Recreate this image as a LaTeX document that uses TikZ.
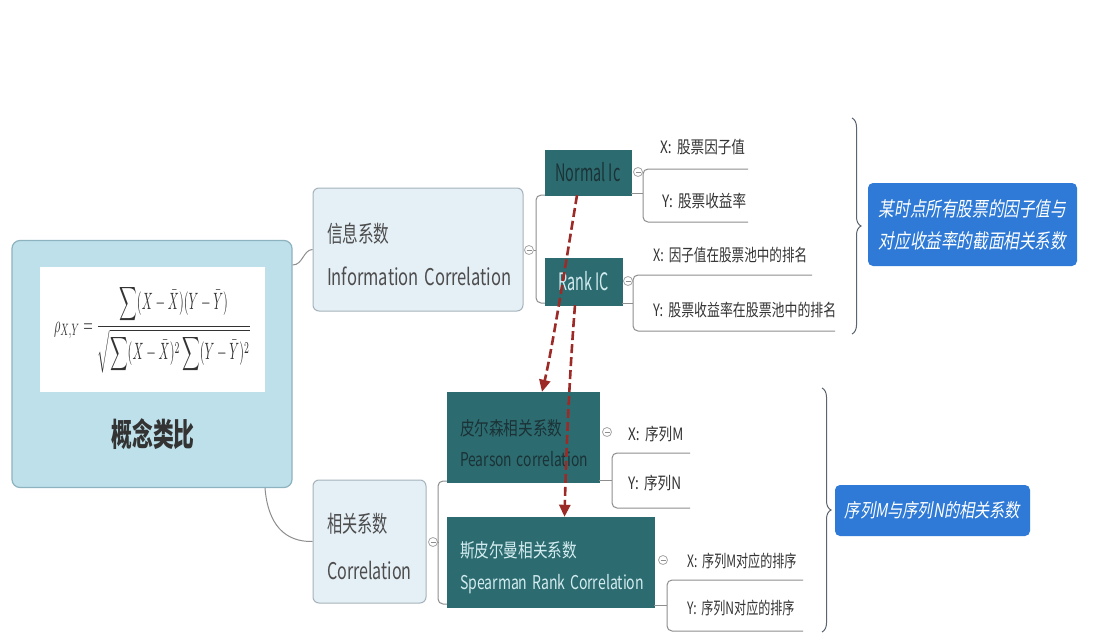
\documentclass[tikz,border=0pt]{standalone}
\usepackage{fontspec}
\usepackage{graphicx}
\setmainfont{Noto Sans CJK SC}
\newfontfamily\slantf[FakeSlant=0.22]{Noto Sans CJK SC}
\usetikzlibrary{decorations.pathreplacing,arrows.meta}
\newcommand\sx[2]{\scalebox{#1}[1]{#2}}
\definecolor{rootfill}{HTML}{BEE0EA}
\definecolor{rootdraw}{HTML}{8DB3C0}
\definecolor{topicfill}{HTML}{E4EFF6}
\definecolor{topicdraw}{HTML}{A6B3BA}
\definecolor{tealfill}{HTML}{2C6C70}
\definecolor{tealdark}{HTML}{1B3236}
\definecolor{teallight}{HTML}{D3ECF0}
\definecolor{bluefill}{HTML}{2E7AD6}
\definecolor{graytext}{HTML}{4D4D4D}
\definecolor{leaftext}{HTML}{333333}
\definecolor{linegray}{HTML}{8E8E8E}
\definecolor{redline}{HTML}{9C2B27}
\definecolor{bracegray}{HTML}{5A6570}
\tikzset{
  rootbox/.style={draw=rootdraw, fill=rootfill, rounded corners=8pt, line width=1.2pt},
  topic/.style={draw=topicdraw, fill=topicfill, rounded corners=6pt, line width=1pt, text=graytext, inner sep=0pt},
  tealbox/.style={fill=tealfill, draw=tealfill, inner sep=0pt},
  sumbox/.style={fill=bluefill, rounded corners=5pt, text=white, inner sep=0pt, align=center},
  leaf/.style={anchor=base west, text=leaftext, inner sep=0pt, font=\fontsize{17}{20}\selectfont},
  conn/.style={draw=linegray, line width=1pt, rounded corners=5pt},
  collapse/.style={circle, draw=linegray!80, fill=white, line width=0.8pt, minimum size=9pt, inner sep=0pt,
     path picture={\draw[linegray, line width=0.6pt] ([xshift=2pt]path picture bounding box.west) -- ([xshift=-2pt]path picture bounding box.east);}},
  redarrow/.style={draw=redline, line width=2.6pt, dash pattern=on 9pt off 4pt, -{Triangle[length=12pt,width=11pt]}},
  bracestyle/.style={draw=bracegray, line width=1pt, decorate, decoration={brace, amplitude=9pt}}
}
\begin{document}
\begin{tikzpicture}[x=1pt,y=-1pt]
\useasboundingbox (0,0) rectangle (1096,634);
\fill[white] (0,0) rectangle (1096,634);

% ---------- root ----------
\node[rootbox, minimum width=280pt, minimum height=247pt] (root) at (152,364) {};
\node[fill=white, minimum width=225pt, minimum height=125pt, inner sep=0pt, text=leaftext] (formula) at (152.5,329)
  {\resizebox*{197pt}{88pt}{$\displaystyle \rho_{X,Y}=\frac{\displaystyle\sum(X-\bar{X})(Y-\bar{Y})}{\displaystyle\sqrt{\sum(X-\bar{X})^2\sum(Y-\bar{Y})^2}}$}};
\node[font=\fontsize{32}{36}\selectfont\bfseries, text=leaftext, inner sep=0pt] (rootlbl) at (153,434) {\sx{0.65}{概念类比}};

% ---------- main topics ----------
\node[topic, minimum width=210pt, minimum height=123pt, text width=182pt, align=left,
      font=\fontsize{23}{43}\selectfont] (info) at (418,249.5)
  {\rule{0pt}{30pt}\sx{0.68}{信息系数}\\\sx{0.72}{Information Correlation}};
\node[topic, minimum width=113pt, minimum height=123pt, text width=85pt, align=left,
      font=\fontsize{23}{47}\selectfont] (corr) at (369.5,541.5)
  {\rule{0pt}{28.5pt}\sx{0.66}{相关系数}\\\sx{0.70}{Correlation}};

\draw[linegray, line width=1pt] (root.east |- 0,265) .. controls (303,265) and (303,250) .. (info.west);
\draw[linegray, line width=1pt] (265,488) .. controls (268,525) and (285,542) .. (corr.west);

% ---------- teal sub topics ----------
\node[tealbox, minimum width=86pt, minimum height=45pt, text=tealdark, font=\fontsize{24}{28}\selectfont] (nic) at (588,172.5) {\sx{0.6}{Normal Ic}};
\node[tealbox, minimum width=77pt, minimum height=47pt, text=teallight, font=\fontsize{24}{28}\selectfont] (rank) at (583.5,281.5) {\sx{0.6}{Rank IC}};
\node[tealbox, minimum width=152pt, minimum height=90pt, text width=126pt, align=left, text=tealdark,
      font=\fontsize{19}{31}\selectfont] (pear) at (523,437)
  {\rule{0pt}{28pt}\sx{0.77}{皮尔森相关系数}\\\sx{0.73}{Pearson correlation}};
\node[tealbox, minimum width=207pt, minimum height=90pt, text width=181pt, align=left, text=teallight,
      font=\fontsize{19}{32}\selectfont] (spear) at (550.5,562)
  {\rule{0pt}{27pt}\sx{0.77}{斯皮尔曼相关系数}\\\sx{0.74}{Spearman Rank Correlation}};

% collapse markers
\node[collapse] (cinfo) at (529,250) {};
\node[collapse] (ccorr) at (433,542) {};
\node[collapse] (cnic) at (638,172) {};
\node[collapse] (crank) at (628,281) {};
\node[collapse] (cpear) at (607,432) {};
\node[collapse] (cspear) at (663,560) {};

% brackets from main topics
\draw[conn] (nic.south west) -- (536,195) -- (536,303) -- (rank.south west |- 0,303);
\draw[conn] (cinfo.east) -- (536,250);
\draw[conn] (pear.south west |- 0,481) -- (438,481) -- (438,604) -- (spear.south west |- 0,604);
\draw[conn] (ccorr.east) -- (438,542);

% ---------- leaves ----------
\node[leaf] (nx) at (660,153.5) {\sx{0.8}{X:\, 股票因子值}};
\node[leaf] (ny) at (662,207.5) {\sx{0.8}{Y:\, 股票收益率}};
\node[leaf] (rx) at (653,261.5) {\sx{0.74}{X:\, 因子值在股票池中的排名}};
\node[leaf] (ry) at (653,316.5) {\sx{0.76}{Y:\, 股票收益率在股票池中的排名}};
\node[leaf] (px) at (628,440.5) {\sx{0.8}{X:\, 序列M}};
\node[leaf] (py) at (628,489.5) {\sx{0.8}{Y:\, 序列N}};
\node[leaf] (sx) at (687,567.5) {\sx{0.71}{X:\, 序列M对应的排序}};
\node[leaf] (sy) at (687,614.5) {\sx{0.71}{Y:\, 序列N对应的排序}};

\coordinate (nxe) at (748,169);
\coordinate (nye) at (748,222);
\coordinate (rxe) at (812,275);
\coordinate (rye) at (835,331);
\coordinate (pxe) at (690,453);
\coordinate (pye) at (690,508);
\coordinate (sxe) at (803,580);
\coordinate (sye) at (803,631);

\draw[conn] (nxe) -- (643,169) -- (643,222) -- (nye);
\draw[conn] (nic.east |- 0,193) -- (643,193);
\draw[conn] (rxe) -- (633,275) -- (633,331) -- (rye);
\draw[conn] (rank.east |- 0,303) -- (633,303);
\draw[conn] (pxe) -- (612,453) -- (612,508) -- (pye);
\draw[conn] (pear.east |- 0,480) -- (612,480);
\draw[conn] (sxe) -- (667,580) -- (667,631) -- (sye);
\draw[conn] (spear.east |- 0,605) -- (667,605);

% ---------- braces and summaries ----------
\coordinate (b1top) at (852,118);
\coordinate (b1bot) at (852,334);
\coordinate (b2top) at (822,388);
\coordinate (b2bot) at (822,632);
\draw[bracestyle] (b1top) -- (b1bot);
\draw[bracestyle] (b2top) -- (b2bot);

\node[sumbox, minimum width=209pt, minimum height=83pt, font=\fontsize{20}{32}\selectfont\slantf] (sum1) at (972.5,224.5)
  {\sx{0.78}{某时点所有股票的因子值与}\\\sx{0.78}{对应收益率的截面相关系数}};
\node[sumbox, minimum width=195pt, minimum height=51pt, font=\fontsize{19}{22}\selectfont\slantf] (sum2) at (932.5,510.5)
  {\sx{0.8}{序列M与序列N的相关系数}};

% ---------- red dashed arrows ----------
\draw[redarrow] ([xshift=-11pt]nic.south) .. controls (566,262) and (552,350) .. ([xshift=19pt]pear.north);
\draw[redarrow] ([xshift=-8.5pt]rank.south) .. controls (569,380) and (566,460) .. ([xshift=14pt]spear.north);
\end{tikzpicture}
\end{document}
